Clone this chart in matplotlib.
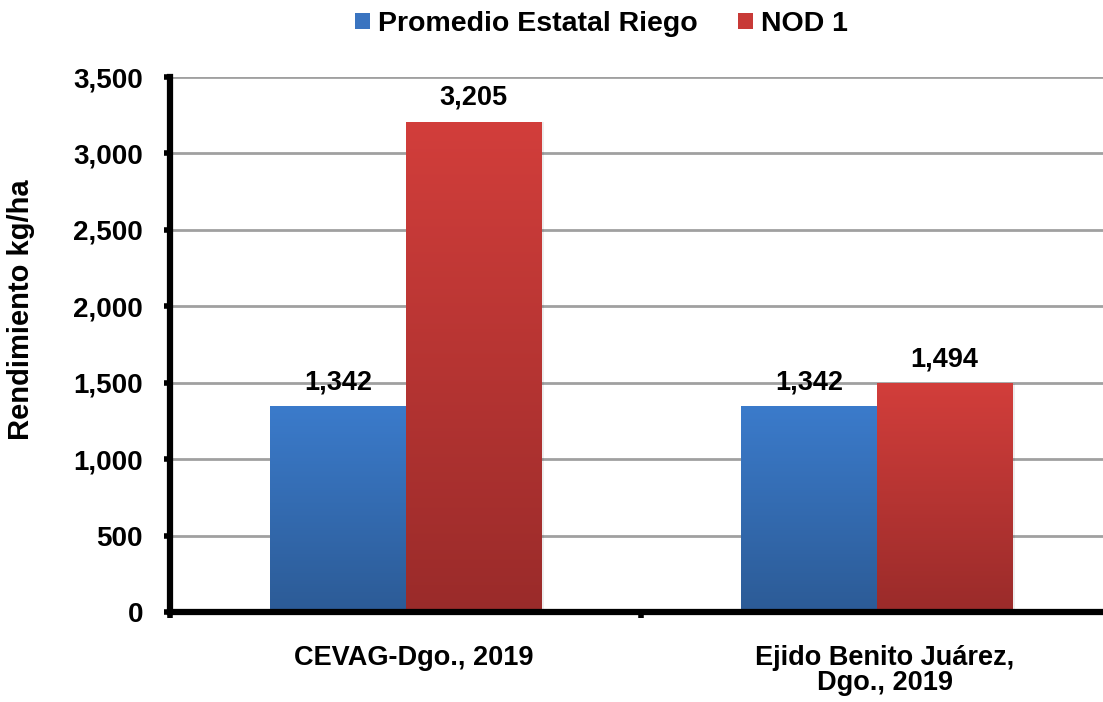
import numpy as np
import matplotlib.pyplot as plt
from matplotlib.colors import LinearSegmentedColormap

plt.rcParams['font.family'] = ['Liberation Sans', 'DejaVu Sans']
plt.rcParams['font.weight'] = 'bold'

categories = ['CEVAG-Dgo., 2019', 'Ejido Benito Juárez,\nDgo., 2019']
series_names = ['Promedio Estatal Riego', 'NOD 1']
promedio = [1342, 1342]
nod1 = [3205, 1494]
yticks = [0, 500, 1000, 1500, 2000, 2500, 3000, 3500]

grad_colors = [('#2c5b96', '#3b7bcb'), ('#9a2b2a', '#d23e3b')]
legend_colors = ['#3a74c0', '#c83a37']

W, H = 1103, 702
fig = plt.figure(figsize=(W / 100, H / 100), dpi=100)
ax = fig.add_axes([170 / W, 1 - 612 / H, (1112 - 170) / W, (612 - 77) / H])

bw = 0.287
x = np.arange(len(categories)) + 0.5
grad = np.linspace(0, 1, 256).reshape(-1, 1)

for i, (vals, name) in enumerate(zip([promedio, nod1], series_names)):
    cmap = LinearSegmentedColormap.from_list(name, grad_colors[i])
    offs = x + (i - 1) * bw
    bars = ax.bar(offs, vals, bw, align='edge', color='none', zorder=3)
    for b, v in zip(bars, vals):
        x0 = b.get_x()
        # soft shadow on the right side
        ax.bar(x0 + bw, v, 0.008, align='edge', color='#000000', alpha=0.07, zorder=2)
        ax.imshow(grad, cmap=cmap, origin='lower', aspect='auto',
                  extent=[x0, x0 + bw, 0, v], zorder=3)
        ax.annotate(f'{v:,}', (x0 + bw / 2, v), xytext=(0, 8), textcoords='offset points',
                    ha='center', va='bottom', fontsize=19.5, fontweight='bold')
    ax.bar([0], [0], color=legend_colors[i], label=name)

ax.set_xlim(0, 2)
ax.set_ylim(0, 3500)
ax.set_yticks(yticks)
ax.set_yticklabels([f'{t:,}' for t in yticks], fontsize=20, fontweight='bold')
ax.set_xticks([0, 1, 2])
ax.set_xticklabels([])
ax.set_xticks(x + 0.017, minor=True)
ax.set_xticklabels(categories, minor=True, fontsize=19.5, fontweight='bold',
                   linespacing=0.95)
ax.tick_params(axis='x', which='minor', length=0, pad=24)
ax.tick_params(axis='both', which='major', length=4.5, width=4, direction='out')
ax.tick_params(axis='y', pad=15)
ax.yaxis.grid(True, color='#a0a0a0', linewidth=2, zorder=0)
ax.set_axisbelow(True)
for s in ['top', 'right']:
    ax.spines[s].set_visible(False)
for s in ['left', 'bottom']:
    ax.spines[s].set_linewidth(4.5)
    ax.spines[s].set_zorder(5)

fig.text(21 / W, 1 - 310 / H, 'Rendimiento kg/ha', rotation=90, ha='center', va='center',
         fontsize=21, fontweight='bold')

fig.legend(loc='center', bbox_to_anchor=(0.545, 1 - 24 / H), ncol=2, frameon=False,
           handlelength=0.53, handleheight=0.53, handletextpad=0.28, borderpad=0,
           columnspacing=1.4, prop={'weight': 'bold', 'size': 20.5})

fig.savefig('out.png', dpi=100)
